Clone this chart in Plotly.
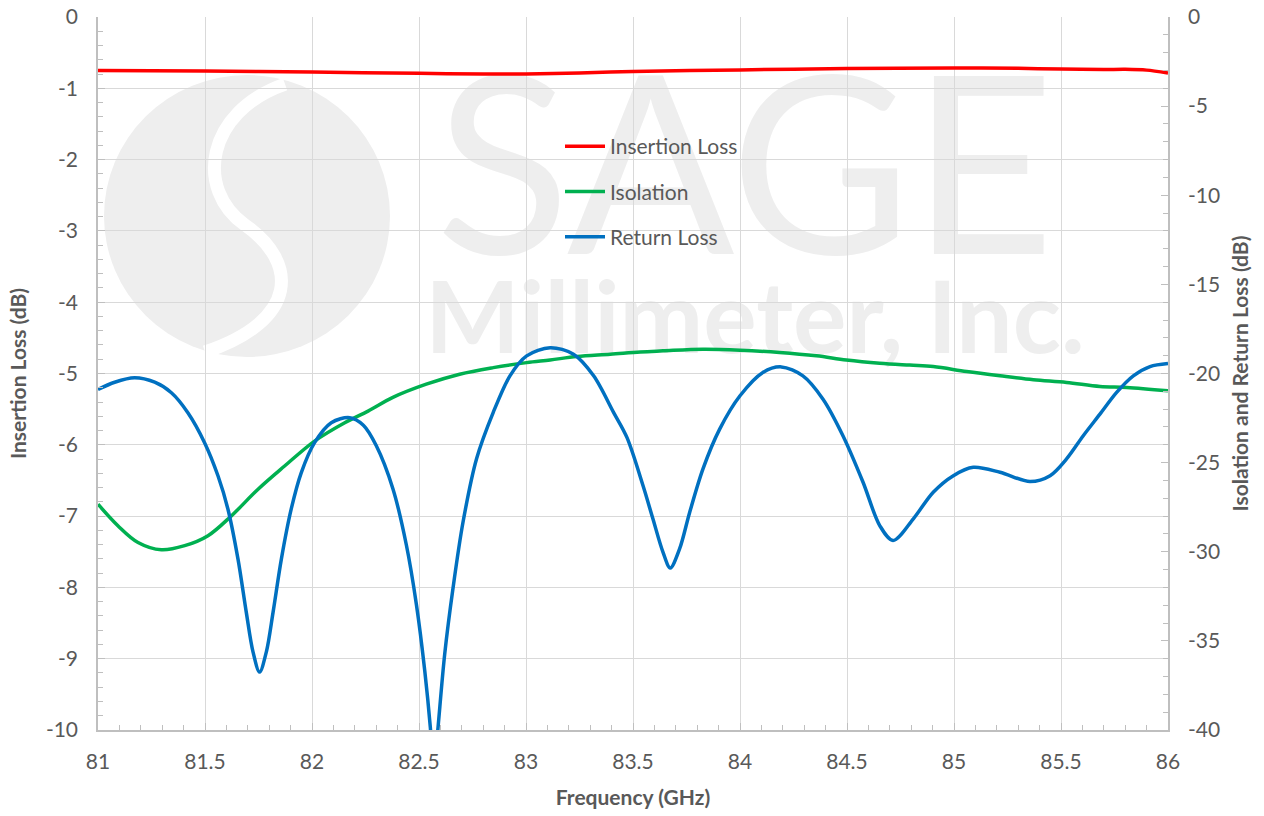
import plotly.graph_objects as go

# ---------------- data ----------------
il_freq = [81.0, 81.5, 82.0, 82.5, 82.8, 83.0, 83.25, 83.5, 84.0, 84.5, 85.0, 85.3, 85.5, 85.7, 85.8, 85.9, 86.0]
il_db = [-0.752, -0.757, -0.772, -0.79, -0.80, -0.80, -0.785, -0.765, -0.742, -0.722, -0.715, -0.72,
         -0.73, -0.737, -0.734, -0.745, -0.787]

iso_freq = [81.0, 81.093, 81.187, 81.296, 81.405, 81.514, 81.623, 81.748, 81.872, 82.012, 82.153, 82.262,
            82.378, 82.534, 82.69, 82.847, 83.003, 83.113, 83.238, 83.394, 83.534, 83.64, 83.827, 84.0,
            84.185, 84.357, 84.497, 84.653, 84.793, 84.903, 85.059, 85.215, 85.371, 85.526, 85.682,
            85.807, 86.0]
iso_db = [-27.33, -28.54, -29.48, -29.89, -29.66, -29.1, -27.99, -26.49, -25.19, -23.79, -22.76, -22.11,
          -21.34, -20.6, -20.04, -19.67, -19.39, -19.24, -19.05, -18.92, -18.79, -18.73, -18.64, -18.69,
          -18.82, -19.01, -19.24, -19.42, -19.53, -19.61, -19.89, -20.13, -20.35, -20.5, -20.73,
          -20.78, -20.97]

rl_freq = [81.0, 81.078, 81.171, 81.265, 81.343, 81.42, 81.498, 81.561, 81.607, 81.654, 81.693, 81.724,
           81.755, 81.787, 81.818, 81.857, 81.903, 81.95, 82.012, 82.09, 82.176, 82.24, 82.30, 82.378,
           82.441, 82.488, 82.527, 82.553, 82.569, 82.589, 82.62, 82.659, 82.706, 82.769, 82.847,
           82.925, 83.003, 83.113, 83.222, 83.316, 83.409, 83.472, 83.547, 83.593, 83.64, 83.674,
           83.718, 83.765, 83.827, 83.905, 84.0, 84.107, 84.193, 84.294, 84.388, 84.481, 84.575,
           84.653, 84.715, 84.81, 84.903, 84.997, 85.09, 85.215, 85.355, 85.449, 85.526, 85.604,
           85.682, 85.76, 85.838, 85.916, 86.0]
rl_db = [-20.9, -20.49, -20.24, -20.49, -21.08, -22.2, -23.88, -25.75, -27.6, -30.4, -33.4, -35.6,
         -36.75, -35.6, -33.4, -30.4, -27.6, -25.56, -23.88, -22.76, -22.48, -22.9, -24.04, -26.46,
         -29.62, -32.97, -36.69, -39.85, -42.5, -39.85, -35.76, -32.04, -28.32, -24.78, -22.18,
         -20.13, -19.01, -18.55, -18.92, -20.13, -22.18, -23.6, -26.3, -28.15, -30.02, -30.91,
         -29.83, -27.78, -25.35, -23.12, -21.25, -19.94, -19.63, -20.13, -21.44, -23.49, -26.1,
         -28.53, -29.37, -28.15, -26.66, -25.73, -25.26, -25.54, -26.06, -25.73, -24.79, -23.49,
         -22.28, -21.06, -20.13, -19.61, -19.44]

x_ticks = [81, 81.5, 82, 82.5, 83, 83.5, 84, 84.5, 85, 85.5, 86]
x_tick_text = ["81", "81.5", "82", "82.5", "83", "83.5", "84", "84.5", "85", "85.5", "86"]
y1_ticks = [0, -1, -2, -3, -4, -5, -6, -7, -8, -9, -10]
y1_tick_text = ["0", "-1", "-2", "-3", "-4", "-5", "-6", "-7", "-8", "-9", "-10"]
y2_ticks = [0, -5, -10, -15, -20, -25, -30, -35, -40]
y2_tick_text = ["0", "-5", "-10", "-15", "-20", "-25", "-30", "-35", "-40"]

# ---------------- layout helpers ----------------
W, H = 1264, 816
ML, MT = 98, 17
PW, PH = 1070, 713
MR, MB = W - ML - PW, H - MT - PH


def fx(px):
    return (px - ML) / PW


def fy(py):
    return (MT + PH - py) / PH


FONT = "Lato, 'Open Sans', sans-serif"
TXT = "#595959"
WM = "#eeeeee"

fig = go.Figure()
fig.add_trace(go.Scatter(x=il_freq, y=il_db, name="Insertion Loss", mode="lines",
                         line=dict(color="#FF0000", width=3.5, shape="spline", smoothing=0.8),
                         legendgroup="a"))
fig.add_trace(go.Scatter(x=iso_freq, y=iso_db, name="Isolation", mode="lines", yaxis="y2",
                         line=dict(color="#00B050", width=3.5, shape="spline", smoothing=1.0),
                         legendgroup="b"))
fig.add_trace(go.Scatter(x=rl_freq, y=rl_db, name="Return Loss", mode="lines", yaxis="y2",
                         line=dict(color="#0070C0", width=3.5, shape="spline", smoothing=0.9),
                         legendgroup="c"))

# watermark (decoration, below grid)
shapes = [
    dict(type="circle", xref="paper", yref="paper", layer="below",
         x0=fx(104), x1=fx(390), y0=fy(357), y1=fy(75), fillcolor=WM, line=dict(width=0)),
]
pts = [(285, 84), (205, 112), (195, 190), (245, 225), (298, 262), (300, 320), (205, 352)]
p = [(fx(a), fy(b)) for a, b in pts]
path = "M {:.4f},{:.4f} C {:.4f},{:.4f} {:.4f},{:.4f} {:.4f},{:.4f} C {:.4f},{:.4f} {:.4f},{:.4f} {:.4f},{:.4f}".format(
    *[c for pt in p for c in pt])
shapes.append(dict(type="path", xref="paper", yref="paper", layer="below", path=path,
                   line=dict(color="white", width=13)))
shapes.append(dict(type="rect", xref="paper", yref="paper", layer="below",
                   x0=fx(420), x1=fx(1070), y0=fy(250), y1=fy(60), line=dict(width=0),
                   fillcolor="rgba(0,0,0,0)",
                   label=dict(text="SAGE", font=dict(family="Lato, 'Open Sans'", size=248, color=WM, weight=400),
                              textposition="middle center")))
shapes.append(dict(type="rect", xref="paper", yref="paper", layer="below",
                   x0=fx(418), x1=fx(1092), y0=fy(358), y1=fy(268), line=dict(width=0),
                   fillcolor="rgba(0,0,0,0)",
                   label=dict(text="Millimeter, Inc.", font=dict(family="Lato", size=100, color=WM, weight="bold"),
                              textposition="middle center")))

axis_common = dict(
    showline=True, linecolor="#bfbfbf", linewidth=1.5, mirror=False,
    ticks="inside", ticklen=7, tickcolor="#bfbfbf", tickwidth=1.3,
    tickfont=dict(family=FONT, size=21, color=TXT),
    zeroline=False, automargin=False, ticklabeloverflow="allow",
)

fig.update_layout(
    width=W, height=H,
    margin=dict(l=ML, r=MR, t=MT, b=MB),
    paper_bgcolor="white", plot_bgcolor="white",
    font=dict(family=FONT, color=TXT),
    shapes=shapes,
    showlegend=True,
    legend=dict(x=fx(560), y=fy(126), xanchor="left", yanchor="top", bgcolor="rgba(0,0,0,0)",
                font=dict(family=FONT, size=21, color=TXT), tracegroupgap=15, itemwidth=40),
    xaxis=dict(range=[81, 86], tickvals=x_ticks, ticktext=x_tick_text,
               showgrid=True, gridcolor="#d9d9d9", gridwidth=1,
               minor=dict(dtick=0.1, ticks="inside", ticklen=5, tickcolor="#bfbfbf", showgrid=False),
               title=dict(text="<b>Frequency (GHz)</b>", font=dict(family=FONT, size=21, color=TXT), standoff=18),
               ticklabelstandoff=12,
               **axis_common),
    yaxis=dict(range=[-10, 0], tickvals=y1_ticks, ticktext=y1_tick_text,
               showgrid=True, gridcolor="#d9d9d9", gridwidth=1,
               minor=dict(dtick=0.2, ticks="inside", ticklen=5, tickcolor="#bfbfbf", showgrid=False),
               title=dict(text="<b>Insertion Loss (dB)</b>", font=dict(family=FONT, size=21, color=TXT), standoff=14),
               ticklabelstandoff=14,
               **axis_common),
    yaxis2=dict(range=[-40, 0], tickvals=y2_ticks, ticktext=y2_tick_text, overlaying="y", side="right",
                showgrid=False,
                minor=dict(dtick=1, ticks="inside", ticklen=5, tickcolor="#bfbfbf", showgrid=False),
                title=dict(text="<b>Isolation and Return Loss (dB)</b>", font=dict(family=FONT, size=21, color=TXT), standoff=14),
                ticklabelstandoff=14,
                **axis_common),
)

fig.write_html("out.html", config={"displayModeBar": False},
               post_script="document.body.style.margin='0';")
